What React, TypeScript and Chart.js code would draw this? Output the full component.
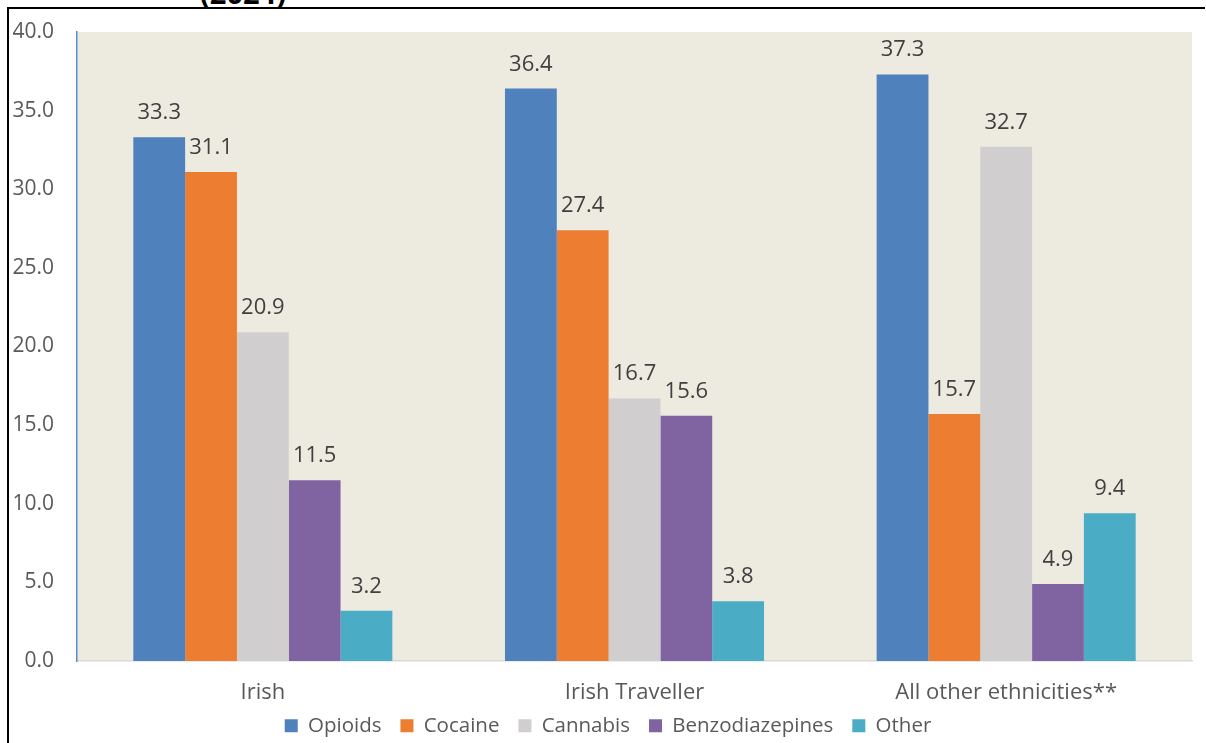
import React, { useEffect, useRef } from "react";
import { Chart, registerables } from "chart.js";

Chart.register(...registerables);

const categories = ["Irish", "Irish Traveller", "All other ethnicities**"];
const seriesNames = ["Opioids", "Cocaine", "Cannabis", "Benzodiazepines", "Other"];
const opioids = [33.3, 36.4, 37.3];
const cocaine = [31.1, 27.4, 15.7];
const cannabis = [20.9, 16.7, 32.7];
const benzodiazepines = [11.5, 15.6, 4.9];
const other = [3.2, 3.8, 9.4];
const seriesColors = ["#4F81BD", "#ED7D31", "#D0CECE", "#8064A2", "#4BACC6"];
const yTicks = [0, 5, 10, 15, 20, 25, 30, 35, 40];
const titleText = "(2024)";

const FONT = "'Open Sans', 'Noto Sans', sans-serif";

const bgPlugin = {
  id: "plotBg",
  beforeDraw(chart: any) {
    const { ctx, chartArea } = chart;
    ctx.save();
    ctx.fillStyle = "#EDEAE0";
    ctx.fillRect(chartArea.left, chartArea.top, chartArea.right - chartArea.left, chartArea.bottom - chartArea.top);
    ctx.restore();
  },
};

const layoutTweak = {
  id: "layoutTweak",
  afterLayout(chart: any) {
    const xs = chart.scales.x;
    if (xs) xs.bottom = xs.top + 60;
    const lg = chart.legend;
    if (lg) {
      lg.top += 3;
      lg.bottom += 3;
      lg.left += 7;
      lg.right += 7;
    }
  },
};

const labelPlugin = {
  id: "valueLabels",
  afterDatasetsDraw(chart: any) {
    const { ctx } = chart;
    ctx.save();
    ctx.font = `22px ${FONT}`;
    ctx.fillStyle = "#404040";
    ctx.textAlign = "center";
    ctx.textBaseline = "alphabetic";
    chart.data.datasets.forEach((ds: any, i: number) => {
      const meta = chart.getDatasetMeta(i);
      meta.data.forEach((bar: any, j: number) => {
        const v = ds.data[j];
        ctx.fillText(Number(v).toFixed(1), bar.x, bar.y - 18);
      });
    });
    ctx.restore();
  },
};

export default function App() {
  const ref = useRef<HTMLCanvasElement | null>(null);

  useEffect(() => {
    if (!ref.current) return;
    const values = [opioids, cocaine, cannabis, benzodiazepines, other];
    const chart = new Chart(ref.current, {
      type: "bar",
      data: {
        labels: categories,
        datasets: seriesNames.map((name, i) => ({
          label: name,
          data: values[i],
          backgroundColor: seriesColors[i],
          borderWidth: 0,
          categoryPercentage: 0.697,
          barPercentage: 1.0,
        })),
      },
      options: {
        animation: false,
        responsive: false,
        maintainAspectRatio: false,
        layout: { padding: { left: 10, top: 32, right: 14, bottom: 0 } },
        plugins: {
          tooltip: { enabled: false },
          legend: {
            position: "bottom",
            labels: {
              font: { family: FONT, size: 20.5 },
              color: "#595959",
              boxWidth: 13,
              boxHeight: 13,
              padding: 19,
            },
          },
        },
        scales: {
          x: {
            grid: { display: false, drawTicks: false },
            border: { display: true, color: "#D9D9D9", width: 1.5 },
            ticks: { font: { family: FONT, size: 22 }, color: "#595959", padding: 19 },
            afterFit(scale: any) {
              scale.height = 32.5;
            },
          },
          y: {
            min: 0,
            max: 40,
            grid: { display: false, drawTicks: false },
            border: { display: true, color: "#5B8BC9", width: 1.5 },
            afterBuildTicks(scale: any) {
              scale.ticks = yTicks.map((v) => ({ value: v }));
            },
            ticks: {
              font: { family: FONT, size: 21 },
              color: "#595959",
              padding: 23,
              callback: (v: any) => Number(v).toFixed(1),
            },
            afterFit(scale: any) {
              scale.width = 67;
              scale.paddingTop = 0;
              scale.paddingBottom = 0;
            },
          },
        },
      },
      plugins: [bgPlugin, layoutTweak, labelPlugin],
    });
    return () => chart.destroy();
  }, []);

  return (
    <div style={{ position: "absolute", left: 0, top: 0, width: 1206, height: 743, background: "#fff", overflow: "hidden" }}>
      <div style={{ position: "absolute", left: 150, top: 0, width: 200, height: 7, overflow: "hidden" }}>
        <div
          style={{
            position: "absolute",
            left: 50,
            top: -21,
            fontFamily: FONT,
            fontWeight: 700,
            fontSize: 29,
            lineHeight: "28px",
            color: "#000",
            whiteSpace: "nowrap",
          }}
        >
          {titleText}
        </div>
      </div>
      <div
        style={{
          position: "absolute",
          left: 7,
          top: 7,
          width: 1198,
          height: 736,
          borderTop: "2px solid #000",
          borderLeft: "2px solid #000",
          boxSizing: "border-box",
        }}
      />
      <canvas ref={ref} width={1206} height={743} style={{ position: "absolute", left: 0, top: 0, width: 1206, height: 743 }} />
    </div>
  );
}
